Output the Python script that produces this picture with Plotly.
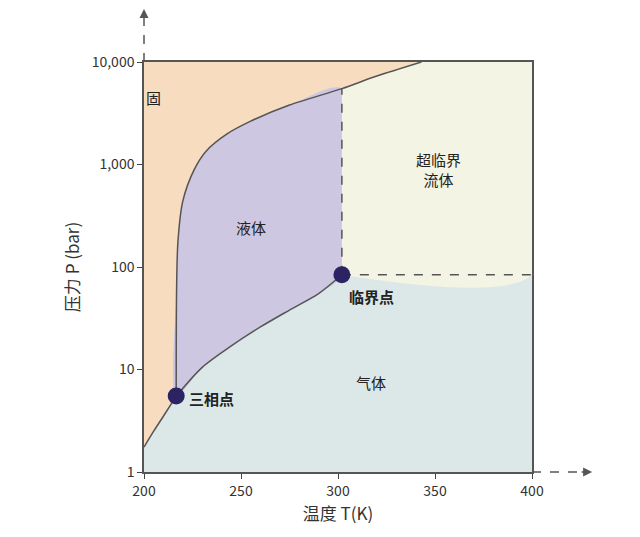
import math

import plotly.graph_objects as go

# phase boundaries (T in K, P in bar)
sub_t = [200, 205, 210, 216.6]
sub_p = [1.75, 2.5, 3.5, 5.5]

melt_t = [216.6, 216.8, 217.5, 220, 226, 232, 243, 255, 275, 302, 320, 343]
melt_p = [5.5, 60, 178, 440, 900, 1350, 2000, 2650, 3800, 5500, 7300, 10000]

vap_t = [216.6, 230, 245, 260, 275, 290, 302]
vap_p = [5.5, 10.5, 17, 26, 38, 55, 84]

crit_t, crit_p = 302, 84
triple_t, triple_p = 216.6, 5.5

x_ticks = [200, 250, 300, 350, 400]
y_ticks = [1, 10, 100, 1000, 10000]
y_labels = ["1", "10", "100", "1,000", "10,000"]

FONT = "Noto Sans CJK SC, Noto Sans, sans-serif"
COL_SOLID = "#f8dcc0"
COL_LIQUID = "#cdc7e1"
COL_SUPER = "#f3f4e4"
COL_GAS = "#dce8e8"
COL_LINE = "#555555"
COL_DOT = "#2b2363"

i_c = melt_t.index(crit_t)

fig = go.Figure()


def region(xs, ys, color):
    fig.add_trace(go.Scatter(x=xs, y=ys, fill="toself", fillcolor=color, mode="none",
                             line=dict(shape="spline", smoothing=0.8),
                             hoverinfo="skip", showlegend=False))


region([200] + sub_t + melt_t[1:] + [200], [10000] + sub_p + melt_p[1:] + [10000], COL_SOLID)
region(melt_t[:i_c + 1] + vap_t[::-1], melt_p[:i_c + 1] + vap_p[::-1], COL_LIQUID)
region(melt_t[i_c:] + [400, 400, crit_t], melt_p[i_c:] + [10000, crit_p, crit_p], COL_SUPER)

# boundary lines
for xs, ys in [(sub_t, sub_p), (melt_t, melt_p), (vap_t, vap_p)]:
    fig.add_trace(go.Scatter(x=xs, y=ys, mode="lines",
                             line=dict(color=COL_LINE, width=1.5, shape="spline", smoothing=0.8),
                             hoverinfo="skip", showlegend=False))

fig.add_trace(go.Scatter(x=[crit_t, crit_t], y=[crit_p, melt_p[i_c]], mode="lines",
                         line=dict(color=COL_LINE, width=1.5, dash="dash"), showlegend=False))
fig.add_trace(go.Scatter(x=[crit_t, 400], y=[crit_p, crit_p], mode="lines",
                         line=dict(color=COL_LINE, width=1.5, dash="dash"), showlegend=False))

fig.add_trace(go.Scatter(x=[triple_t, crit_t], y=[triple_p, crit_p], mode="markers",
                         marker=dict(color=COL_DOT, size=17), showlegend=False))

labels = [
    (205, 4500, "固", False, "center"),
    (255, 245, "液体", False, "center"),
    (352, 900, "超临界<br>流体", False, "center"),
    (317, 7.4, "气体", False, "center"),
    (304.5, 52, "临界点", True, "left"),
    (222, 5.2, "三相点", True, "left"),
]
for x, y, t, bold, anchor in labels:
    fig.add_annotation(x=x, y=math.log10(y), text=f"<b>{t}</b>" if bold else t, showarrow=False,
                       xanchor=anchor, font=dict(size=15, color="#222", family=FONT))

# dashed axis extensions with arrows
fig.add_shape(type="line", xref="paper", yref="paper", x0=1, x1=1.14, y0=0, y1=0,
              line=dict(color=COL_LINE, width=1.5, dash="dash"))
fig.add_shape(type="line", xref="paper", yref="paper", x0=0, x1=0, y0=1, y1=1.13,
              line=dict(color=COL_LINE, width=1.5, dash="dash"))
fig.add_annotation(xref="paper", yref="paper", x=1.155, y=0, ax=-12, ay=0, text="",
                   showarrow=True, arrowhead=2, arrowsize=1.2, arrowcolor=COL_LINE, arrowwidth=1.5)
fig.add_annotation(xref="paper", yref="paper", x=0, y=1.145, ax=0, ay=12, text="",
                   showarrow=True, arrowhead=2, arrowsize=1.2, arrowcolor=COL_LINE, arrowwidth=1.5)

fig.update_xaxes(range=[200, 400], tickvals=x_ticks, ticks="outside", ticklen=5,
                 showline=True, linecolor=COL_LINE, linewidth=1.5, mirror=True, showgrid=False,
                 zeroline=False, title=dict(text="温度 T(K)", standoff=8),
                 tickfont=dict(size=14))
fig.update_yaxes(type="log", range=[0, 4], tickvals=y_ticks, ticktext=y_labels, ticks="outside",
                 ticklen=5, showline=True, linecolor=COL_LINE, linewidth=1.5, mirror=True,
                 showgrid=False, zeroline=False, title=dict(text="压力 P (bar)", standoff=8),
                 tickfont=dict(size=14))

fig.update_layout(width=640, height=537, margin=dict(l=136, r=116, t=54, b=73),
                  plot_bgcolor=COL_GAS, paper_bgcolor="white",
                  font=dict(family=FONT, size=14, color="#333"))

fig.write_html("out.html")
